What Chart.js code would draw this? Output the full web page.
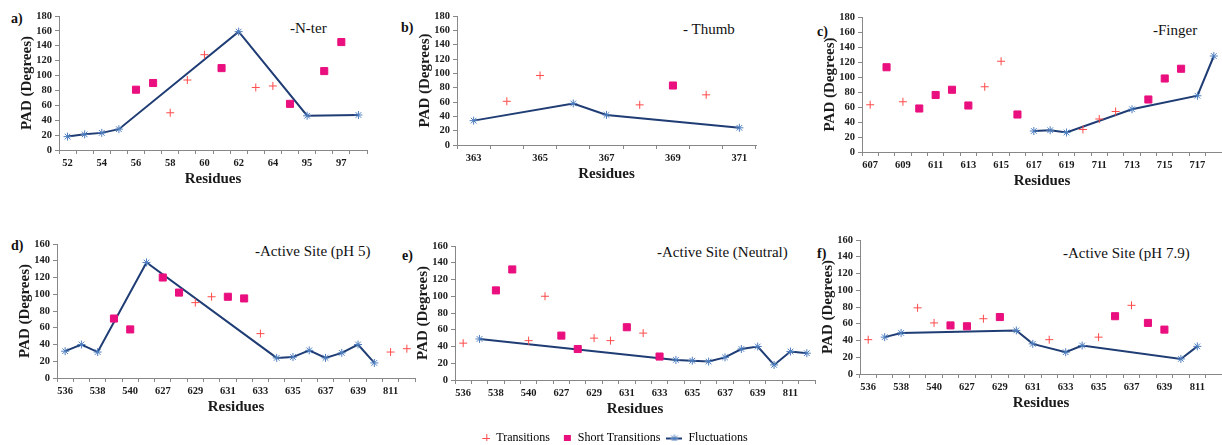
<!DOCTYPE html>
<html>
<head>
<meta charset="utf-8">
<script src="https://cdn.jsdelivr.net/npm/chart.js@4.4.1/dist/chart.umd.min.js"></script>
<style>
  body { margin:0; background:#fff; width:1222px; height:445px; position:relative; overflow:hidden; font-family:"Liberation Serif", serif; }
  .tag { position:absolute; font-size:14px; font-weight:bold; color:#111; line-height:1; }
  .name { position:absolute; font-size:15px; color:#111; white-space:nowrap; line-height:1; }
</style>
</head>
<body>
<div class="tag" style="left:11px;top:12px">a)</div>
<div class="tag" style="left:401px;top:21px">b)</div>
<div class="tag" style="left:817px;top:25px">c)</div>
<div class="tag" style="left:11px;top:239px">d)</div>
<div class="tag" style="left:402px;top:249px">e)</div>
<div class="tag" style="left:817px;top:247px">f)</div>
<div class="name" style="left:290px;top:21px">-N-ter</div>
<div class="name" style="left:683px;top:22px">- Thumb</div>
<div class="name" style="left:1153px;top:23px">-Finger</div>
<div class="name" style="left:255px;top:244px">-Active Site (pH 5)</div>
<div class="name" style="left:657px;top:245px">-Active Site (Neutral)</div>
<div class="name" style="left:1063px;top:246px">-Active Site (pH 7.9)</div>
<script>
// residue categories
var catsA = ['52','53','54','55','56','57','58','59','60','61','62','63','64','65','95','96','97','98'];
var catsB = ['363','364','365','366','367','368','369','370','371'];
var catsC = ['607','608','609','610','611','612','613','614','615','616','617','618','619','710','711','712','713','714','715','716','717','718'];
var catsSite = ['536','537','538','539','540','541','627','628','629','630','631','632','633','634','635','636','637','638','639','640','811','812'];

// a) N-ter
var transA = [null,null,null,null,null,null,50,94,128,null,null,84,86,null,null,null,null,null];
var shortA = [null,null,null,null,81,90,null,null,null,110,null,null,null,62,null,106,145,null];
var fluctA = [18,21,23,28,null,null,null,null,null,null,159,null,null,null,46,null,null,47];

// b) Thumb
var transB = [null,61,97,null,null,56,null,70,null];
var shortB = [null,null,null,null,null,null,83,null,null];
var fluctB = [34,null,null,58,42,null,null,null,24];

// c) Finger
var transC = [63,null,67,null,null,null,null,87,121,null,null,null,null,30,44,54,null,null,null,null,null,null];
var shortC = [null,113,null,58,76,83,62,null,null,50,null,null,null,null,null,null,null,70,98,111,null,null];
var fluctC = [null,null,null,null,null,null,null,null,null,null,28,29,26,null,null,null,57,null,null,null,75,128];

// d) Active site pH 5
var transD = [null,null,null,null,null,null,null,null,90,97,null,null,53,null,null,null,null,null,null,null,31,35];
var shortD = [null,null,null,71,58,null,120,102,null,null,97,95,null,null,null,null,null,null,null,null,null,null];
var fluctD = [32,40,31,null,null,138,null,null,null,null,null,null,null,24,25,33,24,30,40,18,null,null];

// e) Active site neutral
var transE = [44,null,null,null,47,100,null,null,50,47,null,56,null,null,null,null,null,null,null,null,null,null];
var shortE = [null,null,107,132,null,null,53,37,null,null,63,null,28,null,null,null,null,null,null,null,null,null];
var fluctE = [null,49,null,null,null,null,null,null,null,null,null,null,null,24,23,22,27,37,40,18,34,32];

// f) Active site pH 7.9
var transF = [41,null,null,79,61,null,null,66,null,null,null,41,null,null,44,null,82,null,null,null,null,null];
var shortF = [null,null,null,null,null,58,57,null,68,null,null,null,null,null,null,69,null,61,53,null,null,null];
var fluctF = [null,44,49,null,null,null,null,null,null,52,36,null,26,34,null,null,null,null,null,18,33,null];

var RED = '#FF4B4B', PINK = '#EA0F7E', NAVY = '#1F3D74', STAR = '#4F7FC0';
var YW = 60, XH = 40, PT = 10, PR = 6;

Chart.defaults.font.family = '"Liberation Serif", serif';
Chart.defaults.color = '#1a1a1a';

function makePanel(p) {
  var c = document.createElement('canvas');
  c.width = (p.R - p.L) + YW + PR;
  c.height = (p.B - p.T) + PT + XH;
  c.style.position = 'absolute';
  c.style.left = (p.L - YW) + 'px';
  c.style.top = (p.T - PT) + 'px';
  document.body.appendChild(c);
  new Chart(c, {
    type: 'line',
    data: {
      labels: p.cats,
      datasets: [
        { label: 'Transitions', data: p.trans, showLine: false, pointStyle: 'cross', pointRadius: 4,
          pointBorderColor: RED, pointBorderWidth: 1 },
        { label: 'Short Transitions', data: p.short, showLine: false, pointStyle: 'rect', pointRadius: 5,
          pointBackgroundColor: PINK, pointBorderColor: PINK, pointBorderWidth: 1 },
        { label: 'Fluctuations', data: p.fluct, spanGaps: true, borderColor: NAVY, borderWidth: 2,
          pointStyle: 'star', pointRadius: 4, pointBorderColor: STAR, pointBackgroundColor: STAR, pointBorderWidth: 1 }
      ]
    },
    options: {
      responsive: false, animation: false, devicePixelRatio: 1,
      layout: { padding: { top: PT, right: PR, left: 0, bottom: 0 } },
      plugins: { legend: { display: false }, tooltip: { enabled: false } },
      scales: {
        x: {
          offset: true,
          grid: { offset: true, drawOnChartArea: false, tickLength: 4, color: '#888' },
          border: { color: '#888' },
          ticks: { autoSkip: false, maxRotation: 0, padding: 3, font: { size: 10.5, weight: 'bold' },
            callback: function (v, i) { return i % 2 === 0 ? this.getLabelForValue(v) : ''; } },
          title: { display: true, text: 'Residues', font: { size: 15, weight: 'bold' }, padding: { top: 0, bottom: 2 } },
          afterFit: function (s) { s.height = XH; }
        },
        y: {
          min: 0, max: p.max,
          ticks: { stepSize: 20, autoSkip: false, padding: 3, font: { size: 10.5, weight: 'bold' } },
          grid: { drawOnChartArea: false, tickLength: 4, color: '#888' },
          border: { color: '#888' },
          title: { display: true, text: 'PAD (Degrees)', font: { size: 15, weight: 'bold' }, padding: { top: 19, bottom: 0 } },
          afterFit: function (s) { s.width = YW; }
        }
      }
    }
  });
}

makePanel({ cats: catsA, trans: transA, short: shortA, fluct: fluctA, max: 180, L: 59, R: 367, T: 16, B: 150 });
makePanel({ cats: catsB, trans: transB, short: shortB, fluct: fluctB, max: 180, L: 457, R: 756, T: 16, B: 145 });
makePanel({ cats: catsC, trans: transC, short: shortC, fluct: fluctC, max: 180, L: 862, R: 1222, T: 17, B: 152 });
makePanel({ cats: catsSite, trans: transD, short: shortD, fluct: fluctD, max: 160, L: 57, R: 415, T: 244, B: 378 });
makePanel({ cats: catsSite, trans: transE, short: shortE, fluct: fluctE, max: 160, L: 455, R: 815, T: 246, B: 380 });
makePanel({ cats: catsSite, trans: transF, short: shortF, fluct: fluctF, max: 160, L: 860, R: 1222, T: 240, B: 374 });

// legend glyphs
function glyph(kind) {
  var c = document.createElement('canvas');
  c.width = 16; c.height = 12;
  var g = c.getContext('2d');
  if (kind === 'trans') {
    g.strokeStyle = RED; g.lineWidth = 1;
    g.beginPath(); g.moveTo(8, 6.5); g.lineTo(16, 6.5); g.moveTo(12.5, 2); g.lineTo(12.5, 11); g.stroke();
  } else if (kind === 'short') {
    g.fillStyle = PINK; g.fillRect(8, 3, 7, 7);
  } else {
    g.strokeStyle = NAVY; g.lineWidth = 2;
    g.beginPath(); g.moveTo(0, 6.5); g.lineTo(16, 6.5); g.stroke();
    g.strokeStyle = STAR; g.lineWidth = 1;
    g.beginPath();
    g.moveTo(4, 6.5); g.lineTo(12, 6.5); g.moveTo(8, 2.5); g.lineTo(8, 10.5);
    g.moveTo(5, 3.5); g.lineTo(11, 9.5); g.moveTo(11, 3.5); g.lineTo(5, 9.5);
    g.stroke();
  }
  return c;
}

var legendNames = ['Transitions', 'Short Transitions', 'Fluctuations'];
var legendKinds = ['trans', 'short', 'fluct'];

var lc = document.createElement('canvas');
lc.width = 1222; lc.height = 30;
lc.style.position = 'absolute'; lc.style.left = '0px'; lc.style.top = '426px';
document.body.appendChild(lc);
new Chart(lc, {
  type: 'line',
  data: { labels: [], datasets: [] },
  options: {
    responsive: false, animation: false, devicePixelRatio: 1,
    layout: { padding: 0 },
    scales: { x: { display: false }, y: { display: false } },
    plugins: {
      tooltip: { enabled: false },
      legend: {
        display: true, position: 'top', align: 'center',
        labels: {
          usePointStyle: true, pointStyleWidth: 16, padding: 6, color: '#111',
          font: { size: 12 },
          generateLabels: function () {
            return legendNames.map(function (n, i) {
              return { text: n, pointStyle: glyph(legendKinds[i]), fillStyle: 'transparent',
                       strokeStyle: 'transparent', lineWidth: 0, hidden: false, datasetIndex: i };
            });
          }
        }
      }
    }
  }
});
</script>
</body>
</html>
